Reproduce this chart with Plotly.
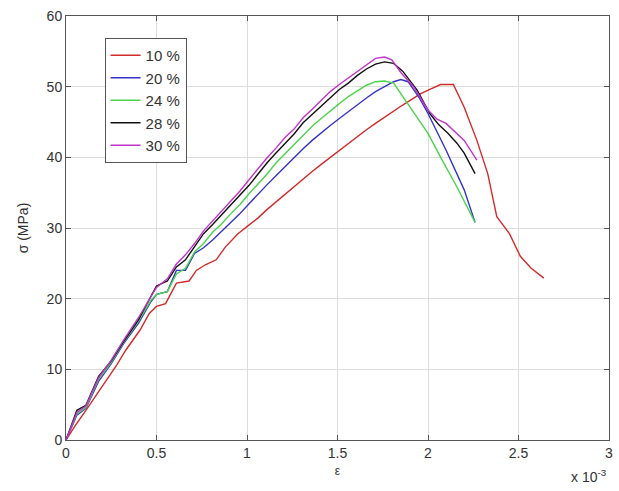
import plotly.graph_objects as go

# Stress-strain curves for five replacement ratios (strain in units of 1e-3, stress in MPa)
labels = ["10 %", "20 %", "24 %", "28 %", "30 %"]
colors = ["#d42a2a", "#3434c8", "#4cd24c", "#111111", "#c234cc"]

eps_10 = [0, 0.05, 0.11, 0.15, 0.22, 0.28, 0.33, 0.41, 0.46, 0.50, 0.55, 0.61, 0.68, 0.72,
          0.77, 0.83, 0.88, 0.95, 1.01, 1.06, 1.11, 1.16, 1.21, 1.26, 1.31, 1.36, 1.41,
          1.46, 1.51, 1.56, 1.61, 1.66, 1.71, 1.76, 1.81, 1.86, 1.91, 1.96, 2.01, 2.07,
          2.14, 2.20, 2.27, 2.33, 2.38, 2.45, 2.51, 2.57, 2.64]
sig_10 = [0, 2.0, 4.2, 5.7, 8.5, 10.6, 12.7, 15.6, 17.9, 18.9, 19.3, 22.2, 22.5, 24.0,
          24.8, 25.5, 27.3, 29.2, 30.4, 31.4, 32.6, 33.7, 34.8, 35.9, 37.0, 38.0, 39.0,
          40.0, 41.0, 42.0, 43.0, 43.9, 44.8, 45.7, 46.6, 47.4, 48.2, 49.0, 49.6, 50.3,
          50.3, 47.1, 42.4, 37.7, 31.6, 29.2, 26.0, 24.3, 22.9]

eps_20 = [0, 0.06, 0.11, 0.18, 0.25, 0.32, 0.40, 0.47, 0.50, 0.56, 0.61, 0.66, 0.71, 0.76,
          0.81, 0.86, 0.91, 0.96, 1.01, 1.06, 1.11, 1.16, 1.21, 1.26, 1.31, 1.36, 1.41,
          1.46, 1.51, 1.56, 1.61, 1.66, 1.71, 1.76, 1.81, 1.85, 1.89, 1.95, 2.00, 2.10,
          2.20, 2.26]
sig_20 = [0, 3.5, 4.5, 8.3, 10.8, 13.7, 16.5, 19.6, 20.6, 21.0, 24.0, 24.0, 26.4, 27.2,
          28.3, 29.5, 30.8, 32.0, 33.4, 34.8, 36.1, 37.4, 38.7, 39.9, 41.2, 42.4, 43.5,
          44.5, 45.5, 46.5, 47.5, 48.4, 49.3, 50.0, 50.7, 51.0, 50.7, 48.5, 46.2, 41.0,
          35.4, 30.8]

eps_24 = [0, 0.06, 0.11, 0.18, 0.25, 0.32, 0.40, 0.47, 0.50, 0.56, 0.61, 0.66, 0.71, 0.76,
          0.81, 0.86, 0.91, 0.96, 1.01, 1.06, 1.11, 1.16, 1.21, 1.26, 1.31, 1.36, 1.41,
          1.46, 1.51, 1.56, 1.61, 1.66, 1.71, 1.76, 1.81, 1.85, 1.90, 2.00, 2.07, 2.16,
          2.26]
sig_24 = [0, 3.7, 4.6, 8.6, 11.0, 13.9, 16.8, 19.8, 20.6, 21.0, 23.5, 24.3, 26.6, 27.8,
          29.4, 30.6, 32.0, 33.3, 34.8, 36.2, 37.6, 39.2, 40.5, 41.8, 43.1, 44.4, 45.5,
          46.6, 47.6, 48.6, 49.4, 50.2, 50.7, 50.8, 50.5, 49.0, 47.0, 43.4, 40.0, 35.8,
          30.8]

eps_28 = [0, 0.06, 0.11, 0.18, 0.25, 0.32, 0.40, 0.47, 0.50, 0.56, 0.61, 0.66, 0.71, 0.76,
          0.81, 0.86, 0.91, 0.96, 1.01, 1.06, 1.11, 1.16, 1.21, 1.26, 1.31, 1.36, 1.41,
          1.46, 1.51, 1.56, 1.61, 1.66, 1.71, 1.76, 1.81, 1.86, 1.94, 2.01, 2.06, 2.11,
          2.16, 2.20, 2.26]
sig_28 = [0, 4.2, 4.9, 9.0, 11.2, 14.0, 17.0, 20.5, 21.8, 22.5, 24.5, 25.5, 27.3, 29.2,
          30.5, 31.9, 33.2, 34.6, 36.0, 37.6, 39.2, 40.6, 42.0, 43.3, 44.9, 46.1, 47.3,
          48.5, 49.6, 50.5, 51.6, 52.5, 53.2, 53.5, 53.3, 52.2, 49.5, 46.2, 44.6, 43.4,
          42.0, 40.6, 37.7]

eps_30 = [0, 0.06, 0.11, 0.18, 0.25, 0.32, 0.40, 0.47, 0.50, 0.56, 0.61, 0.66, 0.71, 0.76,
          0.81, 0.86, 0.91, 0.96, 1.01, 1.06, 1.11, 1.16, 1.21, 1.26, 1.31, 1.36, 1.41,
          1.46, 1.51, 1.56, 1.61, 1.66, 1.71, 1.76, 1.80, 1.85, 1.92, 2.00, 2.05, 2.10,
          2.15, 2.20, 2.27]
sig_30 = [0, 3.9, 4.8, 8.8, 11.3, 14.2, 17.3, 20.3, 21.6, 22.8, 24.9, 26.2, 27.8, 29.6,
          31.0, 32.4, 33.8, 35.2, 36.8, 38.4, 39.9, 41.3, 42.8, 44.0, 45.6, 46.8, 48.0,
          49.3, 50.3, 51.2, 52.2, 53.1, 54.0, 54.2, 53.8, 52.0, 50.0, 46.7, 45.4, 44.8,
          43.6, 42.4, 39.6]

x_ticks = [0, 0.5, 1, 1.5, 2, 2.5, 3]
x_tick_text = ["0", "0.5", "1", "1.5", "2", "2.5", "3"]
y_ticks = [0, 10, 20, 30, 40, 50, 60]

series = [(eps_10, sig_10), (eps_20, sig_20), (eps_24, sig_24),
          (eps_28, sig_28), (eps_30, sig_30)]

FONT = "Liberation Sans, Arial, sans-serif"

fig = go.Figure()
for (xs, ys), name, col in zip(series, labels, colors):
    fig.add_trace(go.Scatter(x=xs, y=ys, mode="lines", name=name,
                             line=dict(color=col, width=1.4)))

axis_common = dict(
    showline=True, linecolor="#555555", linewidth=1, mirror="ticks",
    ticks="inside", ticklen=5, tickcolor="#555555",
    showgrid=True, gridcolor="#dcdcdc", gridwidth=1, zeroline=False,
    tickfont=dict(family=FONT, size=14, color="#333333"),
)

fig.update_xaxes(range=[0, 3], tickvals=x_ticks, ticktext=x_tick_text,
                 title=dict(text="ε", font=dict(family=FONT, size=12, color="#333333"),
                            standoff=6),
                 **axis_common)
fig.update_yaxes(range=[0, 60], tickvals=y_ticks,
                 title=dict(text="σ (MPa)", font=dict(family=FONT, size=14, color="#333333"),
                            standoff=14),
                 **axis_common)

fig.add_annotation(text="x 10<sup>-3</sup>", xref="paper", yref="paper",
                   x=1.0, y=-0.085, xanchor="right", yanchor="middle",
                   showarrow=False, font=dict(family=FONT, size=14, color="#333333"))

fig.update_layout(
    width=619, height=491,
    margin=dict(l=66, r=6, t=16, b=51),
    paper_bgcolor="white", plot_bgcolor="white",
    font=dict(family=FONT, size=14, color="#333333"),
    legend=dict(x=0.071, y=0.948, xanchor="left", yanchor="top",
                bgcolor="white", bordercolor="#555555", borderwidth=1,
                font=dict(family=FONT, size=15, color="#333333"),
                itemwidth=30, tracegroupgap=0),
    showlegend=True,
)

fig.write_html("out.html")
